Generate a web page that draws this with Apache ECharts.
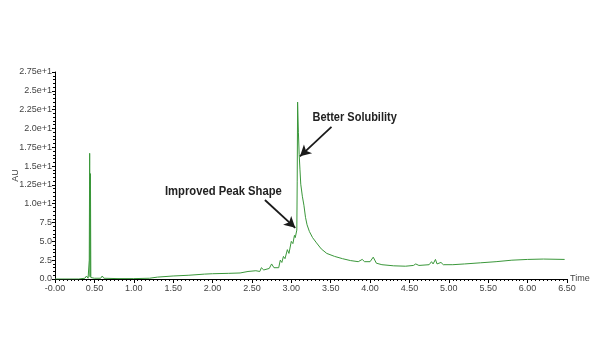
<!DOCTYPE html>
<html>
<head>
<meta charset="utf-8">
<script src="https://cdn.jsdelivr.net/npm/echarts@6/dist/echarts.min.js"></script>
<style>html,body{margin:0;padding:0;background:#fff}#c{width:600px;height:360px}</style>
</head>
<body>
<div id="c"></div>
<script>
var times = [0.00,0.30,0.38,0.40,0.42,0.435,0.44,0.445,0.45,0.455,0.50,0.58,0.60,0.62,0.80,1.00,1.20,1.30,1.50,1.70,1.90,2.00,2.20,2.35,2.45,2.55,2.60,2.62,2.65,2.72,2.75,2.78,2.84,2.86,2.88,2.90,2.92,2.95,2.97,3.00,3.02,3.04,3.05,3.07,3.075,3.08,3.09,3.10,3.11,3.12,3.13,3.14,3.16,3.18,3.20,3.23,3.27,3.32,3.38,3.45,3.55,3.65,3.75,3.85,3.90,3.93,4.00,4.04,4.08,4.15,4.30,4.45,4.55,4.58,4.62,4.75,4.78,4.80,4.83,4.85,4.90,4.93,5.05,5.20,5.40,5.60,5.80,6.00,6.20,6.47];
var values = [0,0,0.1,0.4,0.1,2.5,16.7,0.3,14.0,0.2,0.1,0.1,0.4,0.1,0.05,0.05,0.1,0.25,0.4,0.5,0.65,0.7,0.75,0.8,1.0,1.1,1.0,1.5,1.2,1.4,2.0,1.5,1.5,2.5,2.2,3.0,2.7,3.9,3.4,5.0,4.7,5.8,5.5,6.5,13,23.5,19.5,16.5,14.5,12.6,12.8,11.0,9.8,8.2,7.2,6.3,5.5,4.8,4.0,3.4,3.0,2.7,2.45,2.3,2.6,2.3,2.3,2.9,2.1,1.9,1.75,1.7,1.8,2.0,1.8,1.9,2.3,2.0,2.6,2.0,2.2,1.9,1.9,2.0,2.15,2.3,2.5,2.6,2.65,2.6];
var xTickValues = [0,0.5,1,1.5,2,2.5,3,3.5,4,4.5,5,5.5,6,6.5];
var xTickLabels = ['-0.00','0.50','1.00','1.50','2.00','2.50','3.00','3.50','4.00','4.50','5.00','5.50','6.00','6.50'];
var yTickValues = [0,2.5,5,7.5,10,12.5,15,17.5,20,22.5,25,27.5];
var yTickLabels = ['0.0','2.5','5.0','7.5','1.0e+1','1.25e+1','1.5e+1','1.75e+1','2.0e+1','2.25e+1','2.5e+1','2.75e+1'];
var annotations = [
  {text:'Better Solubility', from:[3.51,20.2], to:[3.11,16.3]},
  {text:'Improved Peak Shape', from:[2.665,10.5], to:[3.05,6.8]}
];

function lbl(vals, labels){
  return function(v){
    for (var i=0;i<vals.length;i++){ if (Math.abs(vals[i]-v)<1e-6) return labels[i]; }
    return '';
  };
}
var chart = echarts.init(document.getElementById('c'));
var lineData = times.map(function(t,i){return [t, values[i]];});
var axisFont = {fontFamily:'Liberation Sans, Arial, sans-serif', fontSize:9, color:'#444'};
chart.setOption({
  animation:false,
  grid:{left:55, right:33, top:72, bottom:81, containLabel:false, outerBoundsMode:'none'},
  xAxis:{
    type:'value', min:0, max:6.5, interval:0.5,
    name:'Time', nameLocation:'end', nameGap:3, nameMoveOverlap:false,
    nameTextStyle:{fontFamily:'Liberation Sans, Arial, sans-serif', fontSize:9, color:'#444', padding:[0,0,6,0]},
    axisLine:{show:true, onZero:false, lineStyle:{color:'#000', width:1}},
    axisTick:{show:true, length:4, lineStyle:{color:'#000'}},
    minorTick:{show:true, splitNumber:10, length:2, lineStyle:{color:'#000'}},
    splitLine:{show:false},
    axisLabel:Object.assign({formatter:lbl(xTickValues,xTickLabels), margin:5}, axisFont)
  },
  yAxis:{
    type:'value', min:0, max:27.5, interval:2.5,
    name:'AU', nameLocation:'middle', nameGap:35, nameRotate:90, nameMoveOverlap:false,
    nameTextStyle:{fontFamily:'Liberation Sans, Arial, sans-serif', fontSize:9, color:'#444'},
    axisLine:{show:true, lineStyle:{color:'#000', width:1}},
    axisTick:{show:true, length:3, lineStyle:{color:'#000'}},
    minorTick:{show:true, splitNumber:5, length:2, lineStyle:{color:'#000'}},
    splitLine:{show:false},
    axisLabel:Object.assign({formatter:lbl(yTickValues,yTickLabels), margin:3}, axisFont)
  },
  series:[{
    type:'line', data:lineData, symbol:'none', silent:true,
    lineStyle:{color:'#3a973a', width:1},
    markLine:{
      silent:true, symbol:['none','arrow'], symbolSize:[9,11],
      lineStyle:{color:'#1a1a1a', width:1.8, type:'solid'},
      label:{show:false},
      data: annotations.map(function(a){return [{coord:a.from},{coord:a.to}];})
    }
  }]
});
var g = annotations.map(function(a, i){
  var p = chart.convertToPixel({gridIndex:0}, a.from);
  var isFirst = i===0;
  return {
    type:'text',
    x: isFirst ? p[0]-19 : p[0]-100,
    y: isFirst ? p[1]-9 : p[1]-8,
    scaleX: isFirst ? 0.88 : 0.9,
    style:{text:a.text, fill:'#222', font:'bold 12.5px "Liberation Sans", Arial, sans-serif', textVerticalAlign:'middle'}
  };
});
chart.setOption({graphic:g});
</script>
</body>
</html>
